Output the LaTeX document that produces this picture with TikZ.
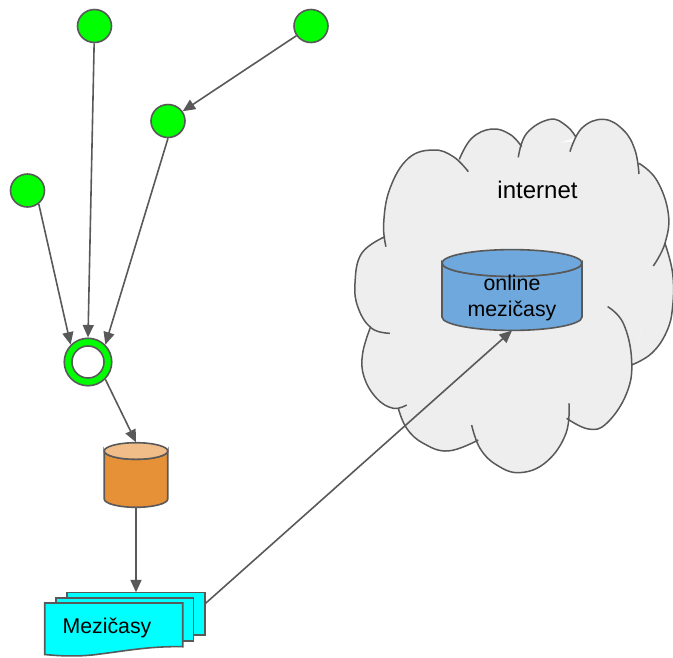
\documentclass[tikz,border=0pt]{standalone}
\usepackage{fontspec}
\setmainfont{Liberation Sans}
\usetikzlibrary{arrows.meta,shapes.geometric}
\definecolor{linegrey}{HTML}{595959}
\definecolor{cloudgrey}{HTML}{EEEEEE}
\definecolor{nodegreen}{HTML}{00FF00}
\definecolor{doccyan}{HTML}{00FFFF}
\definecolor{barrel}{HTML}{E69138}
\definecolor{barreltop}{HTML}{F0BD88}
\definecolor{dbblue}{HTML}{6FA8DC}
\tikzset{
  ink/.style={draw=linegrey,line width=1.6pt},
  greennode/.style={ink,ellipse,fill=nodegreen,minimum width=34pt,minimum height=33pt,inner sep=0pt},
  ringnode/.style={ink,circle,fill=nodegreen,minimum size=47.5pt,inner sep=0pt},
  ringhole/.style={ink,circle,fill=white,minimum size=32pt,inner sep=0pt},
  box/.style={inner sep=0pt,outer sep=0pt},
  sheet/.style={ink,fill=doccyan,box},
  link/.style={draw=linegrey,line width=1.6pt,-{Triangle[length=12.5pt,width=11pt]}},
  label/.style={font=\fontsize{21.3pt}{26pt}\selectfont,text=black,align=center},
}
\newcommand{\cloudlobes}{
  plot[smooth,tension=0.7] coordinates {(138,440)(131,370)(150,265)(205,175)(280,150)(340,170)(385,215)}
  plot[smooth,tension=0.7] coordinates {(358,178)(395,115)(455,87)(510,103)(545,140)}
  plot[smooth,tension=0.7] coordinates {(535,172)(560,100)(630,58)(680,78)(708,112)}
  plot[smooth,tension=0.7] coordinates {(690,155)(725,85)(790,58)(850,90)(885,150)(897,222)}
  plot[smooth,tension=0.7] coordinates {(897,190)(950,240)(985,340)(975,430)(940,498)}
  plot[smooth,tension=0.7] coordinates {(975,430)(998,520)(998,620)(980,695)(935,760)(875,795)}
  plot[smooth,tension=0.7] coordinates {(803,620)(850,670)(875,780)(860,880)(800,970)(745,987)(680,955)}
  plot[smooth,tension=0.7] coordinates {(687,910)(678,1000)(620,1085)(540,1118)(470,1095)(420,1045)(395,975)}
  plot[smooth,tension=0.7] coordinates {(415,1020)(325,1053)(250,1030)(200,985)(175,925)}
  plot[smooth,tension=0.7] coordinates {(200,915)(160,925)(110,895)(72,830)(68,760)(92,680)}
  plot[smooth,tension=0.7] coordinates {(150,700)(95,685)(55,625)(45,550)(65,460)(135,410)}
}
\begin{document}
\begin{tikzpicture}[x=1pt,y=-1pt]
\useasboundingbox (0,0) rectangle (673,657);
% cloud
\begin{scope}[shift={(340,100)},x=0.3333pt,y=-0.3333pt]
  \fill[cloudgrey] (135,410)--(140,300)--(358,178)--(545,135)--(700,125)--(897,190)--(975,430)--(875,795)--(680,955)--(415,1020)--(175,925)--(92,680)--cycle;
  \fill[cloudgrey] \cloudlobes;
  \draw[draw=linegrey,line width=1.5pt] \cloudlobes;
\end{scope}
% green nodes
\node[greennode] (g1) at (94.5,26) {};
\node[greennode] (g2) at (311,26) {};
\node[greennode] (g3) at (168,121) {};
\node[greennode] (g4) at (27.5,190.5) {};
\node[ringnode] (ring) at (88,362) {};
\node[ringhole] (hole) at (88,362) {};
% orange barrel
\node[box,minimum width=63.5pt,minimum height=65.5pt] (barrel) at (136,475) {};
\path[ink,fill=barrel] (104.25,451) -- (104.25,499)
  arc[start angle=180,end angle=360,x radius=31.75pt,y radius=8.3pt]
  -- (167.75,451)
  arc[start angle=0,end angle=-180,x radius=31.75pt,y radius=8.3pt] -- cycle;
\draw[ink,fill=barreltop] (136,451) ellipse[x radius=31.75pt,y radius=8.3pt];
% blue database
\node[box,minimum width=140pt,minimum height=81pt] (db) at (512,290) {};
\path[ink,fill=dbblue] (442,263) -- (442,317)
  arc[start angle=180,end angle=360,x radius=70pt,y radius=13.4pt]
  -- (582,263)
  arc[start angle=0,end angle=-180,x radius=70pt,y radius=13.4pt] -- cycle;
\draw[ink,fill=dbblue] (512,263) ellipse[x radius=70pt,y radius=13.4pt];
\node[label] (dblabel) at (512,298) {online\\[-0.5pt]mezičasy};
\node[label,font=\fontsize{24pt}{28pt}\selectfont] (cloudlabel) at (537.5,190) {internet};
% documents
\node[sheet,minimum width=138.3pt,minimum height=42.7pt] (docback) at (136,613.7) {};
\node[sheet,minimum width=137.3pt,minimum height=43pt] (docmid) at (124.7,619.2) {};
\draw[ink,fill=doccyan] (44.7,603) -- (182.7,603) -- (182.7,646.7)
  .. controls (150,646) and (125,651) .. (100,654)
  .. controls (80,657) and (60,656) .. (44.7,654.5) -- cycle;
\node[label] (doclabel) at (107,628) {Mezičasy};
% connectors
\draw[link] (g1) -- (ring.north);
\draw[link] (g2) -- (g3);
\draw[link] (g3.south) -- (ring.45);
\draw[link] (g4.-50) -- (ring.135);
\draw[link] (ring.-45) -- (barrel.north);
\draw[link] (barrel.south) -- (docback.north);
\draw[link] ([yshift=10pt]docback.east) -- (db.south);
\end{tikzpicture}
\end{document}
